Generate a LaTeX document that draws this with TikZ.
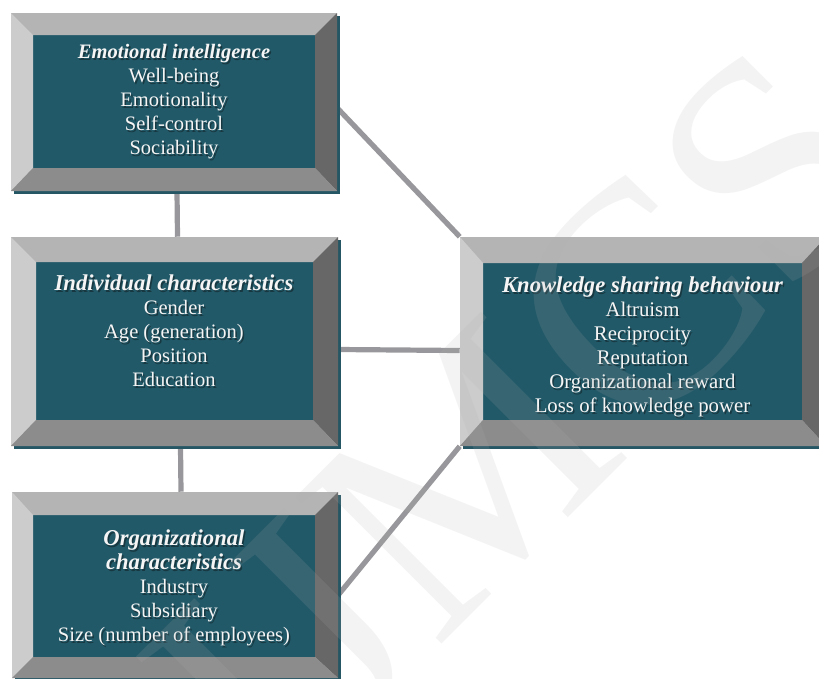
\documentclass[tikz,border=0pt]{standalone}
\usepackage{fontspec}
\setmainfont{Liberation Serif}
\usetikzlibrary{fit,calc}
\pgfdeclarelayer{background}
\pgfsetlayers{background,main}
\definecolor{panelteal}{RGB}{34,89,104}
\definecolor{shadteal}{RGB}{36,86,100}
\definecolor{bvtop}{RGB}{180,180,180}
\definecolor{bvleft}{RGB}{204,204,204}
\definecolor{bvright}{RGB}{103,103,103}
\definecolor{bvbottom}{RGB}{140,140,140}
\definecolor{linkgray}{RGB}{152,152,156}
\definecolor{txtwhite}{RGB}{245,245,245}
\definecolor{txtshade}{RGB}{20,45,52}
\definecolor{wmgray}{RGB}{176,176,176}
\newcommand\boxbase[9]{%
  \fill[shadteal] (#2+3,#3+3) rectangle (#4+3,#5+3);
  \fill[bvtop] (#2,#3) rectangle (#4,#5);
  \fill[panelteal] (#6,#7) rectangle (#8,#9);
  \coordinate (#1nw) at (#2,#3);
  \coordinate (#1se) at (#4,#5);
  \node[fit=(#1nw)(#1se),inner sep=0pt] (#1) {};
}
\newcommand\boxbevel[8]{%
  \fill[bvtop] (#1,#2) -- (#3,#2) -- (#7,#6) -- (#5,#6) -- cycle;
  \fill[bvleft] (#1,#2) -- (#5,#6) -- (#5,#8) -- (#1,#4) -- cycle;
  \fill[bvright] (#3,#2) -- (#7,#6) -- (#7,#8) -- (#3,#4) -- cycle;
  \fill[bvbottom] (#1,#4) -- (#5,#8) -- (#7,#8) -- (#3,#4) -- cycle;
}
\newcommand\ttl[1]{{\fontsize{17pt}{18pt}\selectfont\bfseries\itshape #1}}
\newcommand\ttls[1]{{\bfseries\itshape #1}}
\tikzset{
  boxtext/.style={align=center,text=txtwhite,inner sep=0pt,
    font=\fontsize{15.4pt}{18pt}\selectfont},
  boxshade/.style={boxtext,text=txtshade,text opacity=0.75},
  link/.style={draw=linkgray,line width=3.9pt},
  wmark/.style={text=wmgray,text opacity=0.15,inner sep=0pt,
    font=\fontsize{237pt}{237pt}\selectfont}
}
\begin{document}
\begin{tikzpicture}[x=0.75pt,y=-0.75pt]
\useasboundingbox (0,0) rectangle (819,679);
\clip (0,0) rectangle (819,679);

% Box 1: Emotional intelligence
\boxbase{b1}{11}{13}{337}{191}{33}{35}{315}{168}
\node[boxshade] (t1s) at (175.5,104) {\ttls{Emotional intelligence}\\Well-being\\Emotionality\\Self-control\\Sociability};
\node[boxtext] (t1) at (174,102) {\ttls{Emotional intelligence}\\Well-being\\Emotionality\\Self-control\\Sociability};
\boxbevel{11}{13}{337}{191}{33}{35}{315}{168}

% Box 2: Individual characteristics
\boxbase{b2}{11}{237}{338}{446}{36}{262}{313}{420}
\node[boxshade] (t2s) at (175.5,333) {\ttl{Individual characteristics}\\Gender\\Age (generation)\\Position\\Education};
\node[boxtext] (t2) at (174,331) {\ttl{Individual characteristics}\\Gender\\Age (generation)\\Position\\Education};
\boxbevel{11}{237}{338}{446}{36}{262}{313}{420}

% Box 3: Organizational characteristics
\boxbase{b3}{12}{492}{338}{678}{33}{515}{315}{657}
\node[boxshade] (t3s) at (175.5,589.5) {\ttl{Organizational}\\\ttl{characteristics}\\Industry\\Subsidiary\\Size (number of employees)};
\node[boxtext] (t3) at (174,587.5) {\ttl{Organizational}\\\ttl{characteristics}\\Industry\\Subsidiary\\Size (number of employees)};
\boxbevel{12}{492}{338}{678}{33}{515}{315}{657}

% Box 4: Knowledge sharing behaviour
\boxbase{b4}{460}{237}{826}{446}{483}{263}{802}{420}
\node[boxshade,font=\fontsize{15.6pt}{18pt}\selectfont] (t4s) at (644,348.5) {\ttl{Knowledge sharing behaviour}\\Altruism\\Reciprocity\\Reputation\\Organizational reward\\Loss of knowledge power};
\node[boxtext,font=\fontsize{15.6pt}{18pt}\selectfont] (t4) at (642.5,346.5) {\ttl{Knowledge sharing behaviour}\\Altruism\\Reciprocity\\Reputation\\Organizational reward\\Loss of knowledge power};
\boxbevel{460}{237}{826}{446}{483}{263}{802}{420}

% connectors (behind the boxes)
\begin{pgfonlayer}{background}
\draw[link] ($(b1.south)+(3,0)$) -- ($(b2.north)+(3,0)$);
\draw[link] ($(b2.south)+(6,0)$) -- ($(b3.north)+(6,0)$);
\draw[link] ($(b2.east)+(0,8)$) -- ($(b4.west)+(0,9)$);
\draw[link] ($(b1.east)+(0,6)$) -- (b4.north west);
\draw[link] ($(b3.east)+(0,10)$) -- (b4.south west);
\end{pgfonlayer}

% watermark
\node[wmark,rotate=45,anchor=base west] (wm) at (274,812) {IJMCS};
\end{tikzpicture}
\end{document}
